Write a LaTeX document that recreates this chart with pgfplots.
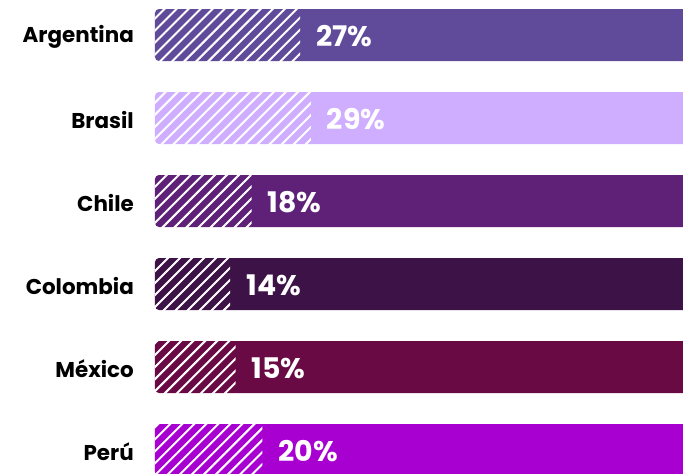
\documentclass[border=0pt]{standalone}
\usepackage{pgfplots}
\pgfplotsset{compat=1.18}
\usetikzlibrary{patterns.meta}
\usepackage{fontspec}
\setmainfont{Poppins}
\definecolor{cArg}{HTML}{604B9B}
\definecolor{cBra}{HTML}{D0AEFF}
\definecolor{cChi}{HTML}{5E2177}
\definecolor{cCol}{HTML}{3D1246}
\definecolor{cMex}{HTML}{6A0A44}
\definecolor{cPer}{HTML}{A700D1}

% one row: colour, share, position
\newcommand\country[3]{%
  \addplot[fill=#1, draw=none, rounded corners=4bp] coordinates {(100,#3)};
  \addplot[draw=none, pattern={Lines[angle=45,distance=8.5bp,line width=2bp]}, pattern color=white,
    nodes near coords={#2\%}] coordinates {(#2,#3)};
}

\begin{document}
\begin{tikzpicture}
\useasboundingbox (-155bp,0) rectangle (528bp,474bp);
\begin{axis}[
  at={(0,0)}, anchor=south west,
  scale only axis,
  width=528bp, height=474bp,
  xmin=0, xmax=98.3,
  ymin=-0.4217, ymax=5.289,
  y dir=reverse,
  xbar, bar width=52bp, bar shift=0pt,
  hide x axis,
  y axis line style={draw=none},
  major tick length=0pt,
  ytick={0,1,2,3,4,5},
  yticklabels={Argentina,Brasil,Chile,Colombia,México,Perú},
  yticklabel style={font=\bfseries\fontsize{21.5}{21.5}\selectfont, inner sep=0pt, xshift=-21bp, yshift=-2bp, text=black},
  every node near coord/.append style={font=\bfseries\fontsize{28.5}{28.5}\selectfont, text=white, anchor=west, inner sep=0pt, xshift=16bp, yshift=-1.5bp},
]
\country{cArg}{27}{0}
\country{cBra}{29}{1}
\country{cChi}{18}{2}
\country{cCol}{14}{3}
\country{cMex}{15}{4}
\country{cPer}{20}{5}
\end{axis}
\end{tikzpicture}
\end{document}
